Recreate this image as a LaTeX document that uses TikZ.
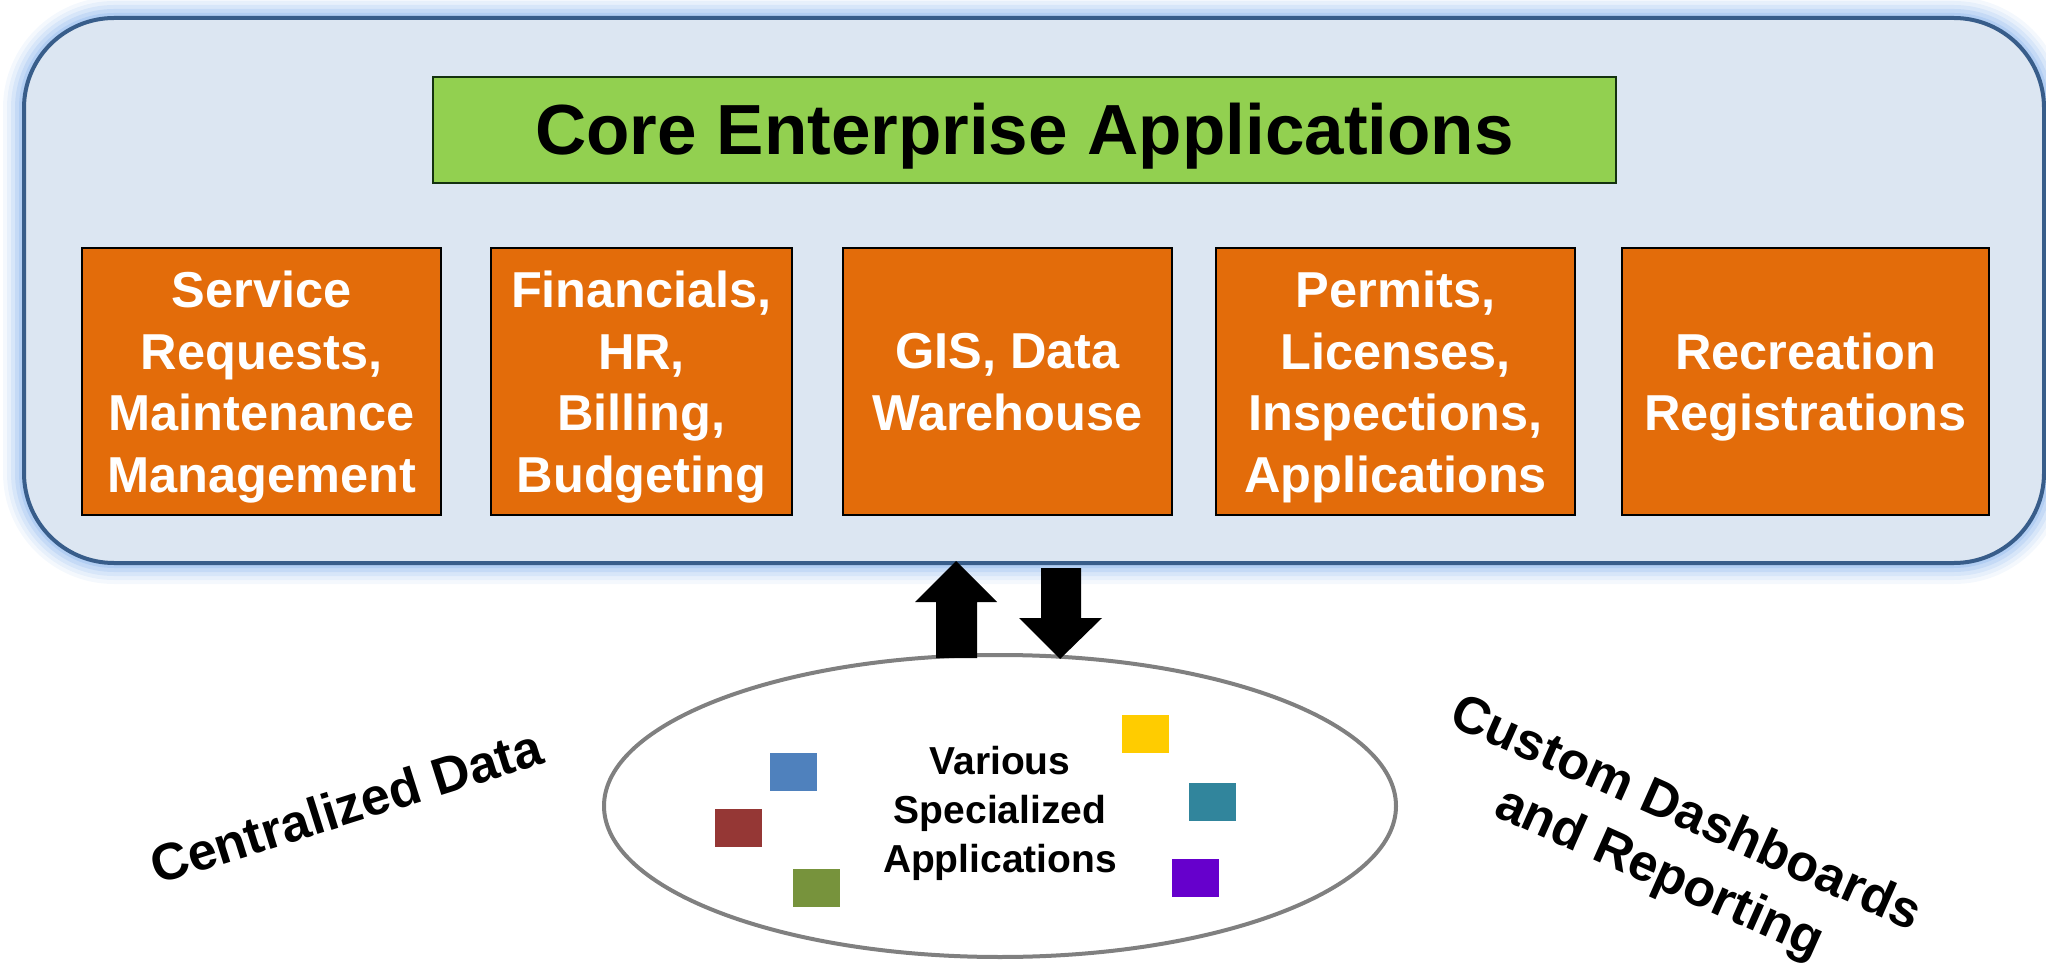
\documentclass[tikz,border=0pt]{standalone}
\usepackage{fontspec}
\setmainfont{Liberation Sans}
\usetikzlibrary{shapes.geometric}
\definecolor{panelfill}{RGB}{220,230,242}
\definecolor{panelline}{RGB}{56,93,138}
\definecolor{glowblue}{RGB}{150,188,238}
\definecolor{titlegreen}{RGB}{146,208,80}
\definecolor{titleline}{RGB}{20,50,15}
\definecolor{orangebox}{RGB}{227,108,10}
\definecolor{ellline}{RGB}{128,128,128}
\definecolor{sqblue}{RGB}{79,129,189}
\definecolor{sqred}{RGB}{149,55,53}
\definecolor{sqgreen}{RGB}{119,147,60}
\definecolor{sqyellow}{RGB}{255,204,0}
\definecolor{sqteal}{RGB}{49,133,156}
\definecolor{sqpurple}{RGB}{102,0,204}
\tikzset{
  appbox/.style={draw=black, line width=2.5pt, fill=orangebox,
    minimum height=267pt, inner sep=0pt},
  apptext/.style={text=white, inner sep=0pt, align=center,
    font=\bfseries\fontsize{50.5}{61.5}\selectfont},
  titlebox/.style={draw=titleline, line width=2.5pt, fill=titlegreen,
    minimum width=1183pt, minimum height=106pt, inner sep=0pt},
  titletext/.style={inner sep=0pt, font=\bfseries\fontsize{71}{85}\selectfont},
  sidelabel/.style={align=center, inner sep=0pt,
    font=\bfseries\fontsize{52}{65}\selectfont},
  chip/.style={minimum width=47pt, minimum height=38pt, inner sep=0pt},
  blockarrow/.style={fill=black}
}
\begin{document}
\begin{tikzpicture}[x=1pt,y=-1pt]
\useasboundingbox (0,0) rectangle (2046,965);
% glow around the panel
\foreach \w/\o in {42/0.10,34/0.14,26/0.20,18/0.28,10/0.40}
  \draw[glowblue, line width=\w pt, opacity=\o, rounded corners=90pt] (24,18) rectangle (2044,563);
% panel
\draw[panelline, fill=panelfill, line width=4pt, rounded corners=90pt] (24,18) rectangle (2044,563);
% title
\node[titlebox] (title) at (1024.5,130) {};
\node[titletext] (titlet) at (1024.5,136) {Core Enterprise Applications};
% application boxes
\node[appbox, minimum width=359pt] (b1) at (261.5,381.5) {};
\node[appbox, minimum width=301pt] (b2) at (641.5,381.5) {};
\node[appbox, minimum width=329pt] (b3) at (1007.5,381.5) {};
\node[appbox, minimum width=359pt] (b4) at (1395.5,381.5) {};
\node[appbox, minimum width=367pt] (b5) at (1805.5,381.5) {};
\node[apptext] (b1t) at (261.5,387) {Service\\Requests,\\Maintenance\\Management};
\node[apptext] (b2t) at (641.5,387) {Financials,\\HR,\\Billing,\\Budgeting};
\node[apptext] (b3t) at (1007.5,387) {GIS, Data\\Warehouse\vphantom{g}};
\node[apptext] (b4t) at (1395.5,387) {Permits,\\Licenses,\\Inspections,\\Applications};
\node[apptext] (b5t) at (1805.5,387) {Recreation\\Registrations};
% specialized applications ellipse
\node[ellipse, draw=ellline, line width=4pt, fill=white, minimum width=792pt, minimum height=302pt, inner sep=0pt] (spec) at (1000,806) {};
\node[align=center, inner sep=0pt, font=\bfseries\fontsize{39}{49}\selectfont] (spectext) at (1000,813) {Various\\Specialized\\Applications};
% coloured chips
\node[chip, fill=sqblue] (c1) at (793,772) {};
\node[chip, fill=sqred] (c2) at (738.5,828) {};
\node[chip, fill=sqgreen] (c3) at (816.5,887.5) {};
\node[chip, fill=sqyellow] (c4) at (1145,734) {};
\node[chip, fill=sqteal] (c5) at (1212.5,801.5) {};
\node[chip, fill=sqpurple] (c6) at (1195,877.5) {};
% side labels
\node[sidelabel, rotate=17.5] (central) at (346,806) {Centralized Data};
\node[sidelabel, rotate=-24] (custom) at (1672,845) {Custom Dashboards\\and Reporting};
% block arrows
\coordinate (uptip) at (956,561);
\coordinate (downtip) at (1060,659);
\fill[blockarrow] (uptip) -- ++(41,41) -- ++(-20,0) -- ++(0,56) -- ++(-41,0) -- ++(0,-56) -- ++(-21,0) -- cycle;
\fill[blockarrow] (downtip) -- ++(42,-41) -- ++(-21,0) -- ++(0,-50) -- ++(-40,0) -- ++(0,50) -- ++(-22,0) -- cycle;
\end{tikzpicture}
\end{document}
